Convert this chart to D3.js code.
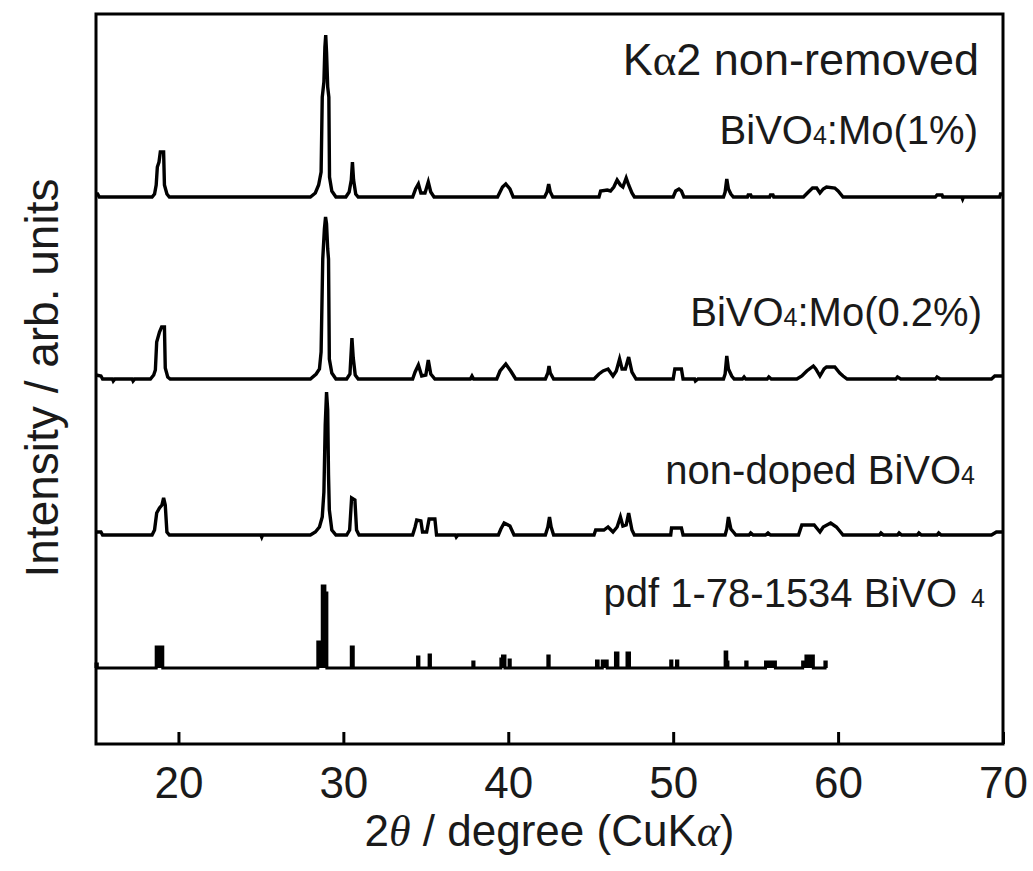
<!DOCTYPE html>
<html>
<head>
<meta charset="utf-8">
<script src="https://cdn.jsdelivr.net/npm/d3@7"></script>
<style>
  body { margin: 0; background: #fff; }
  svg { display: block; font-family: "Liberation Sans", Arial, sans-serif; }
</style>
</head>
<body>
<svg id="chart" width="1033" height="871"></svg>
<script>
// 2theta / intensity (arb. units)
const mo1Pattern = [
  [15.0,3],[15.1,3],[15.2,0],
  [18.4,0],[18.55,3],[18.65,12],[18.72,30],[18.82,35],[18.9,45],[19.1,45],[19.15,12],[19.3,3],[19.45,0],
  [28.0,0],[28.3,4],[28.5,12],[28.65,25],[28.72,100],[28.82,115],[28.88,150],[28.93,162],[28.98,145],[29.05,110],[29.12,100],[29.16,20],[29.3,6],[29.55,0],
  [30.15,0],[30.35,5],[30.48,17],[30.55,35],[30.62,17],[30.75,3],[30.9,0],
  [34.2,0],[34.38,8],[34.55,13],[34.7,4],[34.95,4],[35.15,15],[35.3,5],[35.5,0],
  [39.35,0],[39.5,5],[39.65,10],[39.85,13],[40.1,8],[40.3,0],
  [42.2,0],[42.35,5],[42.45,13],[42.55,5],[42.7,0],
  [45.5,0],[45.6,6],[46.0,7],[46.2,6],[46.4,10],[46.6,17],[46.8,12],[46.95,10],[47.15,19],[47.3,12],[47.5,4],[47.65,0],
  [50.0,0],[50.15,6],[50.35,8],[50.5,6],[50.65,0],
  [53.05,0],[53.15,5],[53.25,18],[53.35,8],[53.5,3],[53.65,0],
  [54.5,0],[54.55,2],[54.7,2],[54.75,0],
  [55.85,0],[55.9,2],[56.05,2],[56.1,0],
  [57.9,0],[58.2,5],[58.45,9],[58.7,9],[58.9,4],[59.1,8],[59.3,10],[59.8,9],[60.0,6],[60.3,0],
  [65.9,0],[66.0,2],[66.3,2],[66.35,0],
  [67.5,0],[67.55,-2],[67.6,0],
  [69.8,0],[69.85,3],[70.0,3]
];

const mo02Pattern = [
  [15.0,4],[15.3,3],[15.4,0],[16.0,0],[16.05,-2],[16.15,0],[17.2,0],[17.25,-2],[17.35,0],
  [18.3,0],[18.5,4],[18.6,9],[18.68,37],[18.85,47],[18.98,52],[19.15,52],[19.2,11],[19.35,2],[19.5,0],
  [28.0,0],[28.35,5],[28.55,10],[28.65,27],[28.75,120],[28.85,150],[28.92,162],[28.98,155],[29.05,130],[29.1,120],[29.15,20],[29.3,6],[29.55,0],
  [30.2,0],[30.4,5],[30.52,41],[30.6,21],[30.72,4],[30.9,0],
  [34.2,0],[34.35,7],[34.55,14],[34.75,3],[35.0,4],[35.15,19],[35.3,5],[35.55,0],
  [37.7,0],[37.8,3],[37.9,0],
  [39.3,0],[39.5,8],[39.85,15],[40.15,8],[40.45,0],
  [42.25,0],[42.4,6],[42.47,13],[42.55,6],[42.75,0],
  [45.2,0],[45.5,5],[45.75,8],[46.05,10],[46.35,3],[46.55,8],[46.75,20],[46.9,10],[47.1,10],[47.3,22],[47.5,7],[47.75,0],
  [50.0,0],[50.1,10],[50.5,10],[50.6,0],
  [51.3,0],[51.35,-2],[51.5,0],
  [53.05,0],[53.15,5],[53.25,23],[53.35,10],[53.55,3],[53.7,0],
  [54.2,0],[54.3,2],[54.4,0],
  [55.7,0],[55.8,2],[55.95,0],
  [57.5,0],[57.8,3],[58.1,8],[58.5,13],[58.65,10],[58.9,3],[59.15,10],[59.3,12],[59.8,12],[60.1,6],[60.3,3],[60.55,0],
  [63.5,0],[63.6,2],[63.8,0],
  [65.9,0],[66.0,2],[66.2,0],
  [69.3,0],[69.5,3],[70.0,3]
];

const nonDopedPattern = [
  [15.0,3],[15.3,3],[15.4,0],
  [18.4,0],[18.55,5],[18.68,22],[18.85,27],[19.0,30],[19.1,37],[19.2,30],[19.3,3],[19.45,0],
  [25.0,0],[25.05,-2],[25.1,0],
  [28.0,0],[28.3,3],[28.55,8],[28.72,18],[28.82,43],[28.9,110],[28.98,143],[29.05,125],[29.1,60],[29.15,25],[29.3,5],[29.55,0],
  [30.2,0],[30.38,5],[30.5,37],[30.7,35],[30.8,5],[30.95,0],
  [34.2,0],[34.35,8],[34.45,15],[34.7,14],[34.8,3],[35.05,3],[35.2,16],[35.55,16],[35.65,0],
  [36.8,0],[36.85,-2],[36.95,0],
  [39.4,0],[39.55,6],[39.75,12],[40.1,9],[40.35,0],
  [42.25,0],[42.4,8],[42.5,18],[42.6,8],[42.75,0],
  [45.2,0],[45.3,5],[45.8,5],[46.05,8],[46.35,3],[46.6,8],[46.8,18],[46.95,9],[47.15,10],[47.3,22],[47.5,5],[47.65,0],
  [49.85,0],[49.9,7],[50.5,7],[50.6,0],
  [53.15,0],[53.25,6],[53.35,18],[53.5,6],[53.65,3],[53.8,0],
  [54.6,0],[54.7,2],[54.85,0],
  [55.6,0],[55.75,2],[55.9,0],
  [57.6,0],[57.8,10],[58.55,10],[58.7,7],[58.9,3],[59.1,8],[59.55,12],[59.9,8],[60.15,3],[60.3,0],
  [62.5,0],[62.6,2],[62.75,0],
  [63.6,0],[63.7,2],[63.85,0],
  [64.8,0],[64.9,2],[65.05,0],
  [66.0,0],[66.1,2],[66.25,0],
  [69.3,0],[69.6,3],[70.0,3]
];

// pdf 1-78-1534 reference sticks (outline of the stick pattern)
const pdfPattern = [
  [15.0,0],[15.0,4],[15.08,4],[15.08,0],
  [18.65,0],[18.65,21],[19.05,21],[19.05,0],
  [28.45,0],[28.45,26],[28.72,26],[28.72,82],[28.88,82],[28.88,75],[29.0,75],[29.0,0],
  [30.48,0],[30.48,21],[30.6,21],[30.6,0],
  [34.5,0],[34.5,11],[34.58,11],[34.58,0],
  [35.2,0],[35.2,13],[35.28,13],[35.28,0],
  [37.85,0],[37.85,6],[37.92,6],[37.92,0],
  [39.55,0],[39.55,9],[39.65,9],[39.65,12],[39.8,12],[39.8,0],
  [40.05,0],[40.05,8],[40.12,8],[40.12,0],
  [42.4,0],[42.4,12],[42.48,12],[42.48,0],
  [45.35,0],[45.35,7],[45.45,7],[45.45,0],
  [45.7,0],[45.7,7],[46.0,7],[46.0,0],
  [46.5,0],[46.5,15],[46.65,15],[46.65,0],
  [47.2,0],[47.2,15],[47.35,15],[47.35,0],
  [49.85,0],[49.85,7],[49.92,7],[49.92,0],
  [50.2,0],[50.2,7],[50.28,7],[50.28,0],
  [53.15,0],[53.15,16],[53.25,16],[53.25,6],[53.32,6],[53.32,0],
  [54.4,0],[54.4,6],[54.48,6],[54.48,0],
  [55.6,0],[55.6,6],[56.2,6],[56.2,0],
  [57.85,0],[57.85,6],[58.05,6],[58.05,12],[58.5,12],[58.5,0],
  [59.2,0],[59.2,6],[59.28,6],[59.28,0],[59.3,0]
];

const seriesNames = ['BiVO4:Mo(1%)', 'BiVO4:Mo(0.2%)', 'non-doped BiVO4', 'pdf 1-78-1534 BiVO4'];
const seriesOffsets = [547, 365, 209, 76];   // vertical stacking offset, arb. units
const xTicks = [20, 30, 40, 50, 60, 70];

const svg = d3.select('#chart');
const margin = { left: 96, right: 30, top: 14, bottom: 127 };
const W = 1033, H = 871;
const x = d3.scaleLinear().domain([15, 70]).range([margin.left, W - margin.right]);
const y = d3.scaleLinear().domain([0, 730]).range([H - margin.bottom, margin.top]);

const line = d3.line()
  .x(d => x(d[0]))
  .y(d => y(d[1]));

const patterns = [mo1Pattern, mo02Pattern, nonDopedPattern];
patterns.forEach((p, i) => {
  const off = seriesOffsets[i];
  svg.append('path')
    .datum(p.map(d => [d[0], d[1] + off]))
    .attr('d', line)
    .attr('fill', 'none')
    .attr('stroke', '#000')
    .attr('stroke-width', 3.4)
    .attr('stroke-linejoin', 'miter');
});

svg.append('path')
  .datum(pdfPattern.map(d => [d[0], d[1] + seriesOffsets[3]]))
  .attr('d', line)
  .attr('fill', '#000')
  .attr('stroke', '#000')
  .attr('stroke-width', 3);

// frame
svg.append('rect')
  .attr('x', x(15)).attr('y', y(730))
  .attr('width', x(70) - x(15)).attr('height', y(0) - y(730))
  .attr('fill', 'none').attr('stroke', '#000').attr('stroke-width', 3);

const xAxis = d3.axisBottom(x)
  .tickValues(xTicks)
  .tickSizeInner(-12)
  .tickSizeOuter(0)
  .tickPadding(23)
  .tickFormat(d3.format('d'));

const gx = svg.append('g')
  .attr('transform', `translate(0,${y(0)})`)
  .call(xAxis);
gx.select('.domain').remove();
gx.selectAll('.tick line').attr('stroke', '#000').attr('stroke-width', 3);
gx.selectAll('.tick text')
  .attr('fill', '#1a1a1a')
  .style('font-size', '44px')
  .style('font-family', '"Liberation Sans", Arial, sans-serif');

// axis titles
const xt = svg.append('text')
  .attr('x', (x(15) + x(70)) / 2)
  .attr('y', 846)
  .attr('text-anchor', 'middle')
  .attr('font-size', 44)
  .attr('fill', '#1a1a1a');
xt.append('tspan').text('2');
xt.append('tspan').attr('font-family', '"Liberation Serif", serif').attr('font-style', 'italic').text('θ');
xt.append('tspan').text(' / degree (CuK');
xt.append('tspan').attr('font-family', '"Liberation Serif", serif').attr('font-style', 'italic').text('α');
xt.append('tspan').text(')');

svg.append('text')
  .attr('transform', 'translate(58,378) rotate(-90)')
  .attr('text-anchor', 'middle')
  .attr('font-size', 46)
  .attr('fill', '#1a1a1a')
  .text('Intensity / arb. units');

// annotations
const note = svg.append('text')
  .attr('x', 979).attr('y', 75)
  .attr('text-anchor', 'end')
  .attr('font-size', 45)
  .attr('fill', '#1a1a1a');
note.append('tspan').text('K');
note.append('tspan').attr('font-family', '"Liberation Serif", serif').text('α');
note.append('tspan').text('2 non-removed');

function bivoLabel(parts, xEnd, yBase) {
  const t = svg.append('text')
    .attr('x', xEnd).attr('y', yBase)
    .attr('text-anchor', 'end')
    .attr('font-size', 40)
    .attr('fill', '#1a1a1a');
  parts.forEach(p => {
    const s = t.append('tspan').text(p.text);
    if (p.sub) s.attr('font-size', 25);
    if (p.gap) s.attr('dx', p.gap);
  });
}

bivoLabel([{ text: 'BiVO' }, { text: '4', sub: true }, { text: ':Mo(1%)' }], 978, 144);
bivoLabel([{ text: 'BiVO' }, { text: '4', sub: true }, { text: ':Mo(0.2%)' }], 982, 326);
bivoLabel([{ text: 'non-doped BiVO' }, { text: '4', sub: true }], 975, 484);
bivoLabel([{ text: 'pdf 1-78-1534 BiVO' }, { text: '4', sub: true, gap: 14 }], 985, 607);
</script>
</body>
</html>
